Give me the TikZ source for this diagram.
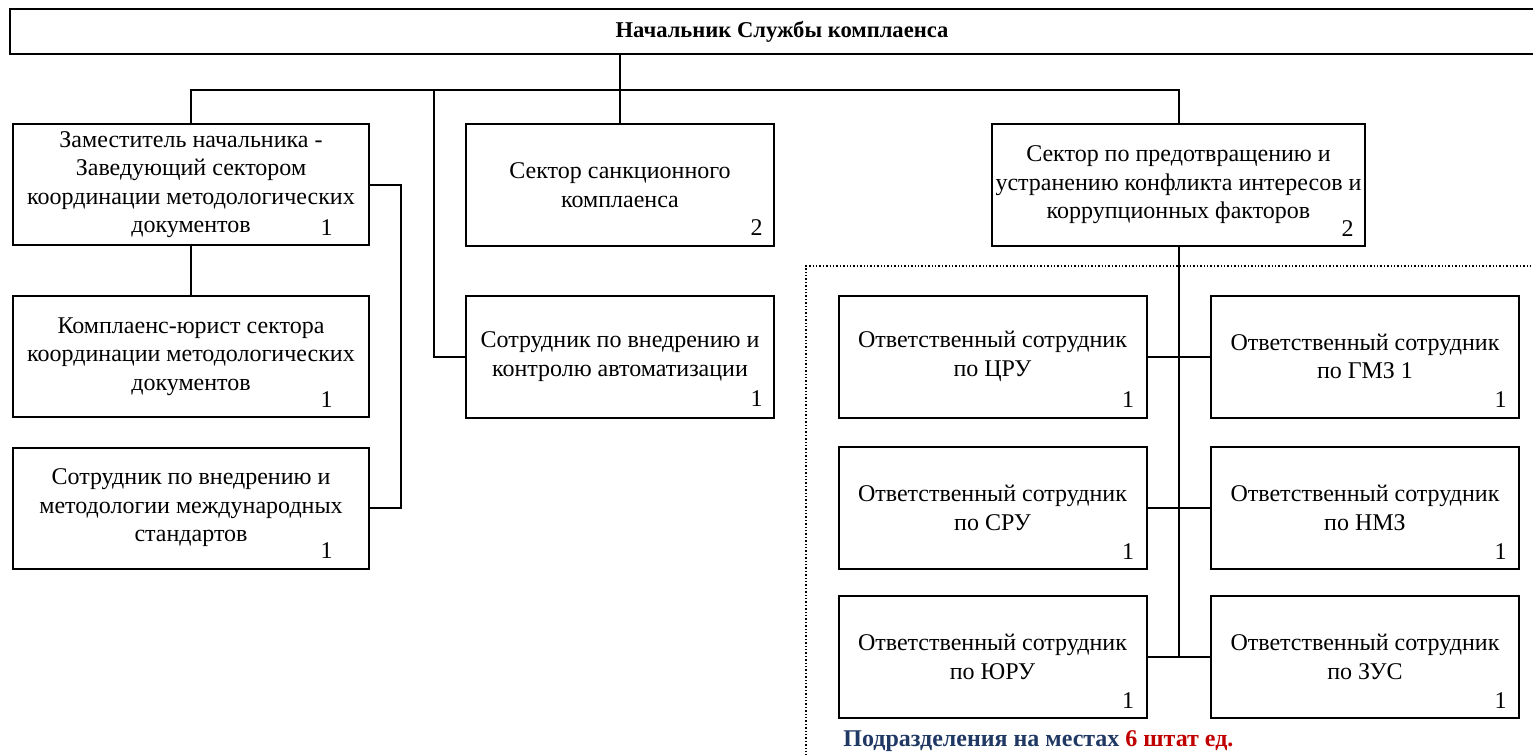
\documentclass[tikz,border=0pt]{standalone}
\usepackage{fontspec}
\setmainfont{Liberation Serif}
\usepackage{xcolor}
\usepackage{tikz}
\definecolor{notenavy}{HTML}{1F3864}
\definecolor{notered}{HTML}{C00000}
\tikzset{
headnode/.style={rectangle, draw=black!100,fill=none,line width=1pt, inner sep=0pt, minimum width= 772pt, minimum height = 22.5pt, font=\fontsize{11.3}{13}\selectfont\bfseries},
boxnodev1/.style={rectangle, draw=black!100,fill=none,line width=1pt, inner sep=0pt, align=center, minimum width= 178pt, minimum height = 60.5pt, font=\fontsize{12}{14.25}\selectfont},
boxnodev2/.style={rectangle, draw=black!100,fill=none,line width=1pt, inner sep=0pt, align=center, minimum width= 154pt, minimum height = 61pt, font=\fontsize{12}{14.25}\selectfont},
boxnodev3/.style={rectangle, draw=black!100,fill=none,line width=1pt, inner sep=0pt, align=center, minimum width= 186.5pt, minimum height = 61pt, font=\fontsize{12}{14.25}\selectfont},
numnode/.style={inner sep=0pt, anchor=base east, font=\fontsize{12}{14.25}\selectfont},
edgeline/.style={line width=1pt, black},
framedots/.style={line width=0.7pt, black, densely dotted},
}

\begin{document}
\begin{tikzpicture}[x=0.5pt,y=-0.5pt]
\useasboundingbox (0,0) rectangle (1533,755);
\clip (0,0) rectangle (1533,755);
\node[headnode] at (782,31.5) (head) {Начальник Службы комплаенса};

\node[boxnodev1] at (191,184.5) (zam) {Заместитель начальника -\\Заведующий сектором\\координации методологических\\документов};
\node[boxnodev1] at (191,356.5) (kom) {Комплаенс-юрист сектора\\координации методологических\\документов};
\node[boxnodev1] at (191,508) (sotrm) {Сотрудник по внедрению и\\методологии международных\\стандартов};
\node[boxnodev2] at (620,185) (san) {Сектор санкционного\\комплаенса};
\node[boxnodev2] at (620,356.5) (avt) {Сотрудник по внедрению и\\контролю автоматизации};
\node[boxnodev3] at (1178.5,185) (pred) {Сектор по предотвращению и\\устранению конфликта интересов и\\коррупционных факторов};

\node[boxnodev2] at (992.5,356.5) (cru) {Ответственный сотрудник\\по ЦРУ};
\node[boxnodev2] at (1365,356.5) (gmz) {Ответственный сотрудник\\по ГМЗ 1};
\node[boxnodev2] at (992.5,508) (sru) {Ответственный сотрудник\\по СРУ};
\node[boxnodev2] at (1365,508) (nmz) {Ответственный сотрудник\\по НМЗ};
\node[boxnodev2] at (992.5,657) (yru) {Ответственный сотрудник\\по ЮРУ};
\node[boxnodev2] at (1365,657) (zus) {Ответственный сотрудник\\по ЗУС};

\node[numnode] at ([xshift=-18.5pt,yshift=5.5pt]zam.south east) (zamnum) {1};
\node[numnode] at ([xshift=-18.5pt,yshift=5.5pt]kom.south east) (komnum) {1};
\node[numnode] at ([xshift=-18.5pt,yshift=5.5pt]sotrm.south east) (sotrmnum) {1};
\node[numnode] at ([xshift=-6pt,yshift=6pt]san.south east) (sannum) {2};
\node[numnode] at ([xshift=-6pt,yshift=6pt]avt.south east) (avtnum) {1};
\node[numnode] at ([xshift=-6pt,yshift=5.5pt]pred.south east) (prednum) {2};
\node[numnode] at ([xshift=-6.5pt,yshift=5.5pt]cru.south east) (crunum) {1};
\node[numnode] at ([xshift=-6.5pt,yshift=5.5pt]gmz.south east) (gmznum) {1};
\node[numnode] at ([xshift=-6.5pt,yshift=5.5pt]sru.south east) (srunum) {1};
\node[numnode] at ([xshift=-6.5pt,yshift=5.5pt]nmz.south east) (nmznum) {1};
\node[numnode] at ([xshift=-6.5pt,yshift=5.5pt]yru.south east) (yrunum) {1};
\node[numnode] at ([xshift=-6.5pt,yshift=5.5pt]zus.south east) (zusnum) {1};

\node[anchor=base west, inner sep=0pt, font=\fontsize{12}{14}\selectfont\bfseries] at (843,746) (note) {\textcolor{notenavy}{Подразделения на местах} \textcolor{notered}{6 штат ед.}};

\coordinate (bus) at (0,90);
\coordinate (avtbus) at (434,90);
\coordinate (sidebus) at (401,0);
\draw[edgeline] (head.south -| san.north) -- (san.north);
\draw[edgeline] (zam.north) -- (zam.north |- bus) -- (pred.north |- bus) -- (pred.north);
\draw[edgeline] (avtbus) |- (avt.west);
\draw[edgeline] (zam.south) -- (kom.north);
\draw[edgeline] (zam.east) -- (zam.east -| sidebus) |- (sotrm.east);
\draw[edgeline] (pred.south) -- (pred.south |- yru.east);
\draw[edgeline] (cru.east) -- (gmz.west);
\draw[edgeline] (sru.east) -- (nmz.west);
\draw[edgeline] (yru.east) -- (zus.west);

\draw[framedots] (806,800) -- (806,266) -- (1600,266);
\end{tikzpicture}
\end{document}
